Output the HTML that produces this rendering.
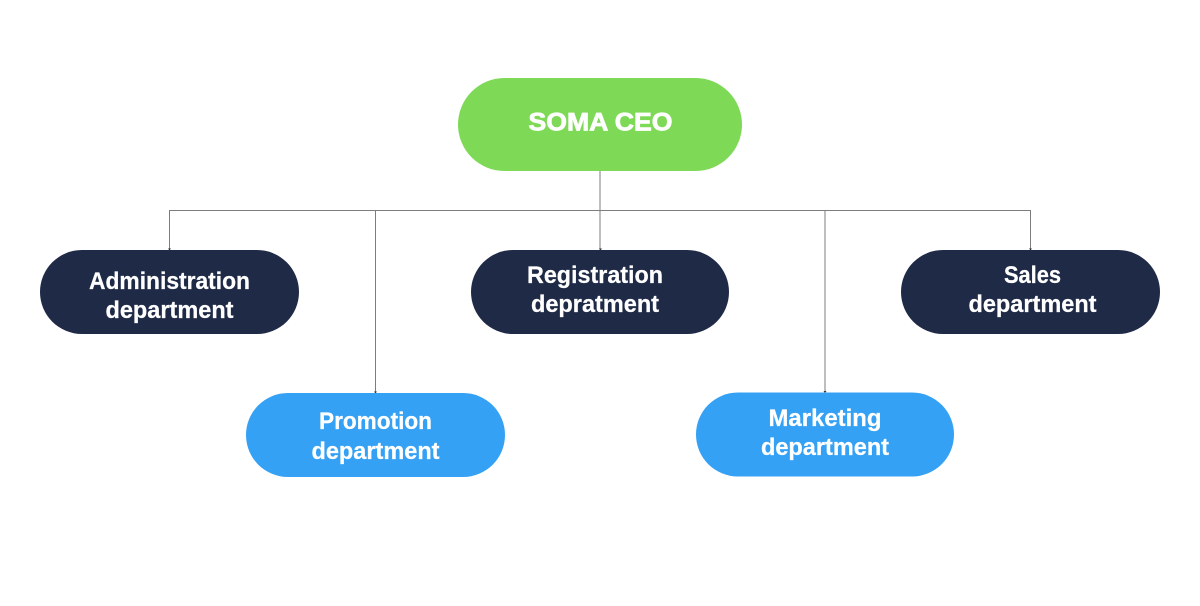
<!DOCTYPE html>
<html lang="en">
<head>
<meta charset="utf-8">
<title>SOMA org chart</title>
<style>
html,body{margin:0;padding:0;background:#fff;width:1200px;height:606px;overflow:hidden}
svg{display:block}
text{font-family:"Liberation Sans",sans-serif;font-weight:700;fill:#fff;text-anchor:middle}
.d{stroke:#fff;stroke-width:.25px}
.c{stroke:#fff;stroke-width:.8px}
</style>
</head>
<body>
<svg width="1200" height="606" viewBox="0 0 1200 606" xmlns="http://www.w3.org/2000/svg">
<rect width="1200" height="606" fill="#fff"/>
<g stroke="#7d7d7d" stroke-width="1" fill="none">
<path d="M600 170V250"/>
<path d="M169.500 250V210.500H1030.500V250"/>
<path d="M375.500 210.500V393"/>
<path d="M825 210.500V393"/>
</g>
<g fill="#333">
<path d="M168 248.500h3l-1.500 2z"/>
<path d="M599 248.500h3l-1.500 2z"/>
<path d="M1029 248.500h3l-1.500 2z"/>
<path d="M374 391.500h3l-1.500 2z"/>
<path d="M823.500 391h3l-1.500 2z"/>
</g>
<rect x="458" y="78" width="284" height="93" rx="46.500" fill="#7ed957"/>
<rect x="40" y="250" width="259" height="84" rx="42" fill="#1f2a47"/>
<rect x="471" y="250" width="258" height="84" rx="42" fill="#1f2a47"/>
<rect x="901" y="250" width="259" height="84" rx="42" fill="#1f2a47"/>
<rect x="246" y="393" width="259" height="84" rx="42" fill="#34a1f5"/>
<rect x="696" y="392.500" width="258" height="84" rx="42" fill="#34a1f5"/>

<text class="c" x="600.500" y="130.500" font-size="25" textLength="144" lengthAdjust="spacingAndGlyphs">SOMA CEO</text>

<text class="d" x="169.500" y="289" font-size="24" textLength="161" lengthAdjust="spacingAndGlyphs">Administration</text>
<text class="d" x="169.500" y="318" font-size="24" textLength="128" lengthAdjust="spacingAndGlyphs">department</text>

<text class="d" x="595" y="283" font-size="24" textLength="136" lengthAdjust="spacingAndGlyphs">Registration</text>
<text class="d" x="595" y="312" font-size="24" textLength="128" lengthAdjust="spacingAndGlyphs">depratment</text>

<text class="d" x="1032.500" y="283" font-size="24" textLength="57" lengthAdjust="spacingAndGlyphs">Sales</text>
<text class="d" x="1032.500" y="312" font-size="24" textLength="128" lengthAdjust="spacingAndGlyphs">department</text>

<text class="d" x="375.500" y="429" font-size="24" textLength="113" lengthAdjust="spacingAndGlyphs">Promotion</text>
<text class="d" x="375.500" y="459" font-size="24" textLength="128" lengthAdjust="spacingAndGlyphs">department</text>

<text class="d" x="825" y="426" font-size="24" textLength="113" lengthAdjust="spacingAndGlyphs">Marketing</text>
<text class="d" x="825" y="455" font-size="24" textLength="128" lengthAdjust="spacingAndGlyphs">department</text>
</svg>
</body>
</html>
